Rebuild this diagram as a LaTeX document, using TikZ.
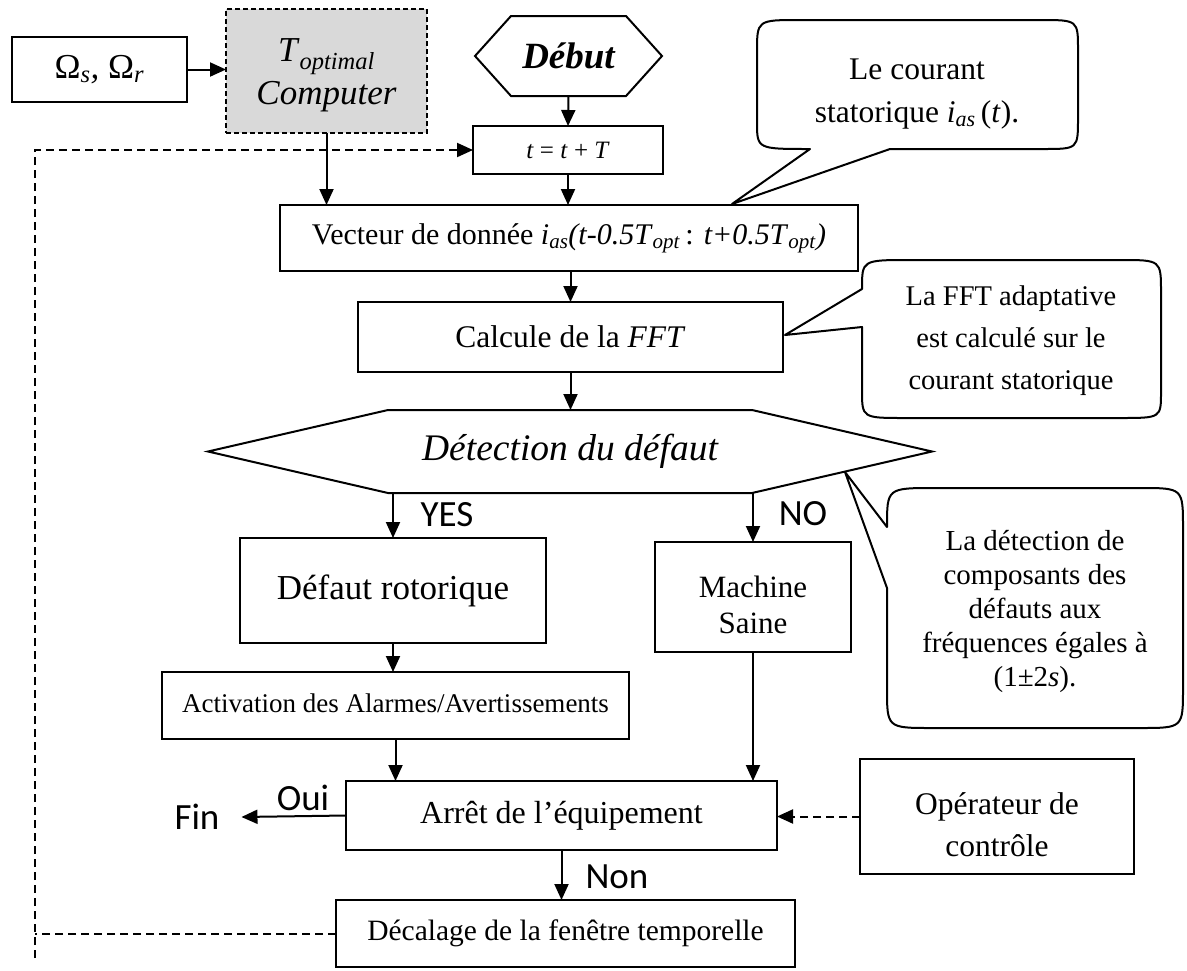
\documentclass[tikz,border=0pt]{standalone}
\usepackage{fontspec}
\setmainfont{Liberation Serif}
\newfontfamily\carlito{Carlito}
\usetikzlibrary{arrows.meta,calc}
\definecolor{compgray}{HTML}{D9D9D9}
\begin{document}
\begin{tikzpicture}[x=1pt,y=-1pt,
  flowbox/.style={draw, line width=2pt, inner sep=0pt, outer sep=0pt, align=center, font=\fontsize{30}{36}\selectfont},
  arrowline/.style={line width=2pt, -{Triangle[length=16pt,width=14pt]}},
  dashline/.style={line width=2pt, dash pattern=on 8pt off 5pt},
  sidelabel/.style={font=\carlito\fontsize{37}{42}\selectfont, inner sep=0pt, outer sep=0pt},
  callout/.style={draw, line width=2pt, line join=round},
  callouttext/.style={align=center, inner sep=0pt},
  hexline/.style={draw, line width=2pt, line join=miter}
]
\useasboundingbox (0,0) rectangle (1187,970);

% ---- top row
\node[flowbox, minimum width=175pt, minimum height=65pt, font=\fontsize{35}{40}\selectfont] (om) at (99.5,69.5)
  {\raisebox{-9pt}{Ω\textsubscript{\textit{s}}\textit{,} Ω\textsubscript{\textit{r}}}};
\node[flowbox, fill=compgray, dash pattern=on 5pt off 3pt, minimum width=201pt, minimum height=124pt,
  font=\fontsize{35}{43}\selectfont] (comp) at (326.5,71)
  {\rule{0pt}{31pt}\textit{T}\textsubscript{\textit{optimal}}\\\textit{Computer}};

% Debut hexagon
\node[inner sep=0pt, outer sep=0pt, minimum width=115pt, minimum height=80pt,
  font=\fontsize{37}{42}\selectfont\bfseries\itshape] (debut) at (568.5,56) {\raisebox{-3pt}{Début}};
\draw[hexline] ($(debut.west)+(-36,0)$) -- (debut.north west) -- (debut.north east)
  -- ($(debut.east)+(36,0)$) -- (debut.south east) -- (debut.south west) -- cycle;

\node[flowbox, minimum width=190pt, minimum height=48pt, font=\fontsize{25}{28}\selectfont] (tbox) at (568,150)
  {\textit{t} = \textit{t} + \textit{T}};

\node[flowbox, minimum width=578pt, minimum height=66pt, font=\fontsize{30}{35}\selectfont] (vec) at (569,238)
  {Vecteur de donnée \textit{i}\textsubscript{\textit{as}}\textit{(t-0.5T}\textsubscript{\textit{opt}}\,: \textit{t+0.5T}\textsubscript{\textit{opt}}\textit{)}};

\node[flowbox, minimum width=425pt, minimum height=70pt, font=\fontsize{31.5}{36}\selectfont] (calc) at (570.5,337)
  {Calcule de la \textit{FFT}};

% Detection hexagon
\node[inner sep=0pt, outer sep=0pt, minimum width=364pt, minimum height=83pt,
  font=\fontsize{37.5}{42}\selectfont\itshape] (det) at (570,451.5) {Détection du défaut};
\draw[hexline] ($(det.west)+(-180,0)$) -- (det.north west) -- (det.north east)
  -- ($(det.east)+(180,0)$) -- (det.south east) -- (det.south west) -- cycle;

\node[flowbox, minimum width=306pt, minimum height=105pt, font=\fontsize{35}{40}\selectfont] (defaut) at (393,590.5)
  {Défaut rotorique};
\node[flowbox, minimum width=196pt, minimum height=110pt, font=\fontsize{31}{36}\selectfont] (mach) at (753,597)
  {\rule{0pt}{37pt}Machine\\Saine};
\node[flowbox, minimum width=467pt, minimum height=67pt, font=\fontsize{27}{30}\selectfont] (act) at (395.5,705.5)
  {\raisebox{4pt}{Activation des Alarmes/Avertissements}};
\node[flowbox, minimum width=431pt, minimum height=69pt, font=\fontsize{32}{36}\selectfont] (arret) at (561.5,815.5)
  {Arrêt de l’équipement};
\node[flowbox, minimum width=274pt, minimum height=115pt, font=\fontsize{31.5}{42}\selectfont] (oper) at (997,816.5)
  {\rule{0pt}{39pt}Opérateur de\\contrôle};
\node[flowbox, minimum width=459pt, minimum height=67pt, font=\fontsize{29.5}{34}\selectfont] (dec) at (565.5,933.5)
  {Décalage de la fenêtre temporelle};

% labels
\node[sidelabel] (yes) at (447,515) {YES};
\node[sidelabel] (no) at (803,514) {NO};
\node[sidelabel] (oui) at (303,798) {Oui};
\node[sidelabel] (fin) at (197,817) {Fin};
\node[sidelabel] (non) at (617,877) {Non};

% connectors
\draw[arrowline] (om.east) -- (om.east -| comp.west);
\draw[arrowline] (debut.south) -- (tbox.north);
\draw[arrowline] (tbox.south) -- (tbox.south |- vec.north);
\draw[arrowline] (comp.south) -- (comp.south |- vec.north);
\draw[arrowline] (calc.north |- vec.south) -- (calc.north);
\draw[arrowline] (calc.south) -- (calc.south |- det.north);
\draw[arrowline] (defaut.north |- det.south) -- (defaut.north);
\draw[arrowline] (mach.north |- det.south) -- (mach.north);
\draw[arrowline] (defaut.south) -- (defaut.south |- act.north);
\draw[arrowline] (act.south) -- (act.south |- arret.north);
\draw[arrowline] (mach.south) -- (mach.south |- arret.north);
\draw[arrowline] (arret.west) -- ($(fin.east)+(22,0)$);
\draw[arrowline] (arret.south) -- (arret.south |- dec.north);
\draw[arrowline, dash pattern=on 8pt off 5pt] (oper.west) -- (oper.west -| arret.east);

% feedback loop
\coordinate (loopbot) at (35,958);
\draw[dashline] (dec.west) -- (dec.west -| loopbot);
\draw[dashline, -{Triangle[length=16pt,width=14pt]}] (loopbot) -- (loopbot |- tbox.west) -- (tbox.west);

% callout 1
\draw[callout] (810,149) -- (732,204) -- (890,149) -- (1043,149) .. controls (1078,149) .. (1078,118)
  -- (1078,50) .. controls (1078,20) .. (1040,20) -- (800,20) .. controls (757,20) .. (757,52)
  -- (757,122) .. controls (757,149) .. (810,149) -- cycle;
\node[callouttext, font=\fontsize{31.5}{43}\selectfont] (c1) at (917,94)
  {Le courant\\statorique \textit{i}\textsubscript{\textit{as}}\,(\textit{t}).};

% callout 2
\draw[callout] (862,327) -- (785,335) -- (862,289) .. controls (862,260) .. (910,260) -- (1120,260)
  .. controls (1161,260) .. (1161,292) -- (1161,392) .. controls (1161,418) .. (1120,418)
  -- (905,418) .. controls (862,418) .. (862,390) -- cycle;
\node[callouttext, font=\fontsize{28.5}{42}\selectfont] (c2) at (1011,341)
  {La FFT adaptative\\est calculé sur le\\courant statorique};

% callout 3
\draw[callout] (887,588) -- (845,472) -- (887,527) .. controls (887,488) .. (935,488) -- (1140,488)
  .. controls (1183,488) .. (1183,528) -- (1183,688) .. controls (1183,728) .. (1140,728)
  -- (932,728) .. controls (887,728) .. (887,688) -- cycle;
\node[callouttext, font=\fontsize{29}{34}\selectfont] (c3) at (1035,611)
  {La détection de\\composants des\\défauts aux\\fréquences égales à\\(1±2\textit{s}).};
\end{tikzpicture}
\end{document}
